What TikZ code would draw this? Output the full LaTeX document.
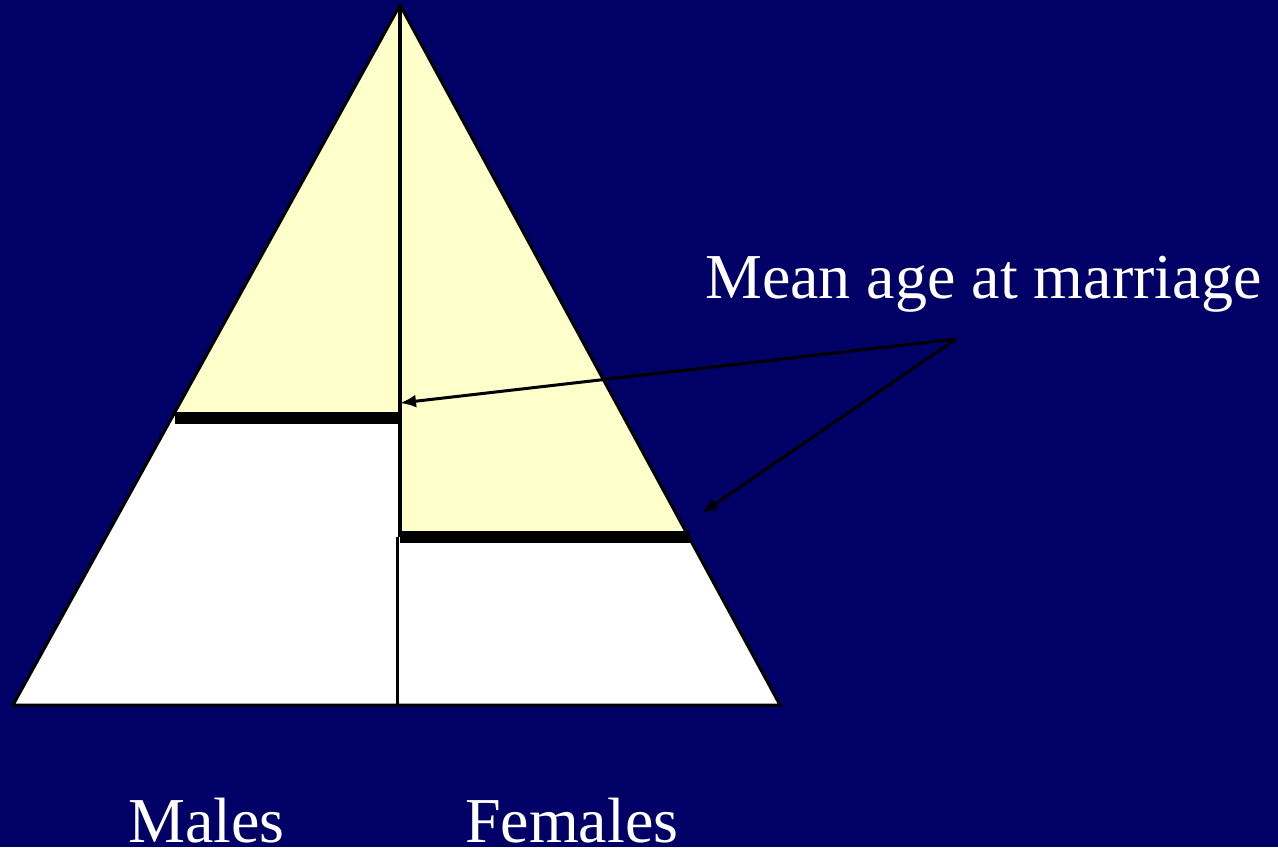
\documentclass[tikz,border=0pt]{standalone}
\usepackage{fontspec}
\setmainfont{Liberation Serif}
\usetikzlibrary{arrows.meta,positioning,calc}
\definecolor{PyrNavy}{RGB}{0,0,102}
\definecolor{PyrCream}{RGB}{255,255,204}
\tikzset{
  pyr/label/.style={
    text=white,
    font=\fontsize{64}{76}\selectfont,
    inner sep=0pt,
    anchor=base west
  },
  pyr/edge/.style={draw=black, line width=3pt, line join=miter},
  pyr/divider/.style={draw=black, line width=4pt},
  pyr/bar/.style={draw=black, line width=12pt},
  pyr/pointer/.style={-{Latex[length=16pt,width=13pt]}, draw=black, line width=3pt}
}

\begin{document}
\begin{tikzpicture}[x=1pt,y=-1pt]
  \fill[PyrNavy] (0,0) rectangle (1278,847);
  \useasboundingbox (0,0) rectangle (1278,847);
  \coordinate (apex) at (400,5);
  \coordinate (bl) at (13,705);
  \coordinate (br) at (780,705);
  \coordinate (mleft) at (172,418);
  \coordinate (mright) at (400,418);
  \coordinate (fleft) at (400,537);
  \coordinate (fright) at (689,537);
  \coordinate (base) at (397,705);
  \fill[white] (apex) -- (bl) -- (br) -- cycle;
  \fill[PyrCream] (apex) -- (mleft) -- (mright) -- cycle;
  \fill[PyrCream] (apex) -- (fleft) -- (fright) -- cycle;
  \draw[pyr/divider] (apex) -- (fleft);
  \draw[pyr/edge] (397,537) -- (base);
  \draw[pyr/edge] (apex) -- (bl) -- (br) -- cycle;
  \draw[pyr/bar] (175,418) -- (398,418);
  \draw[pyr/bar] (fleft) -- (690,537);
  \node[pyr/label] (mean) at (705,298) {Mean age at marriage};
  \node[pyr/label] (males) at (128,842) {Males};
  \node[pyr/label] (females) at (465,842) {Females};
  \coordinate (fork) at (956,339);
  \coordinate (mtip) at (400,403);
  \coordinate (ftip) at (702,513);
  \draw[pyr/pointer] (fork) -- (mtip);
  \draw[pyr/pointer] (fork) -- (ftip);
\end{tikzpicture}
\end{document}
